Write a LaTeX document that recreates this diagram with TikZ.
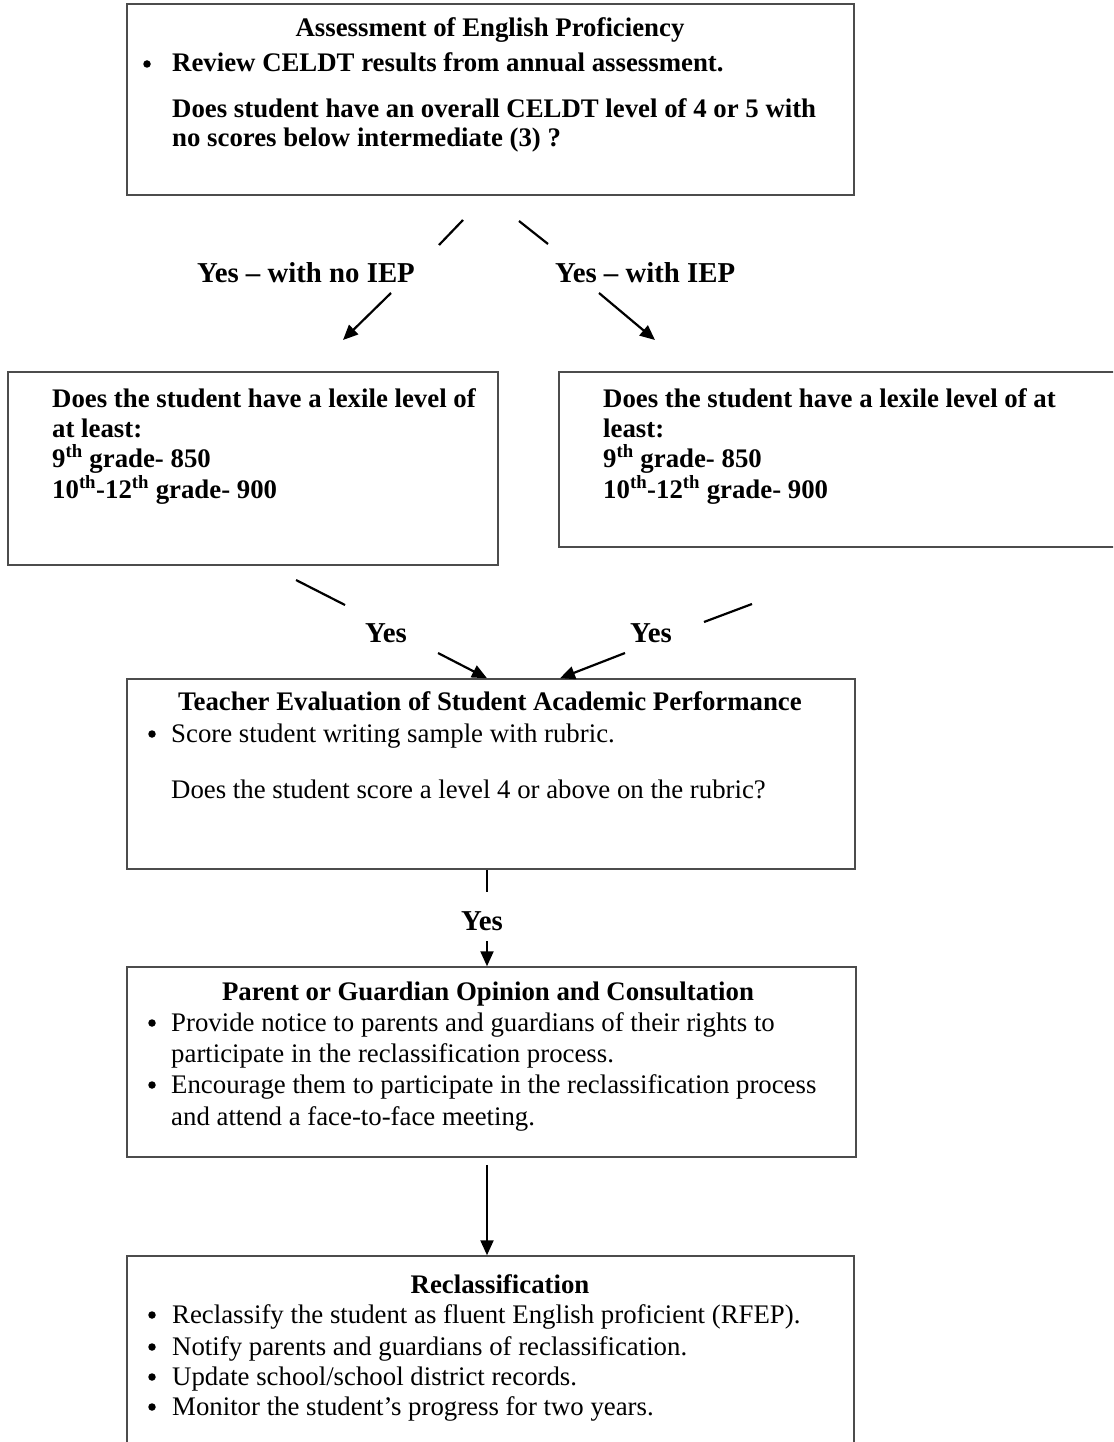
\documentclass[tikz,border=0pt]{standalone}
\usepackage{fontspec}
\setmainfont{Liberation Serif}
\usetikzlibrary{arrows.meta}
\begin{document}
\begin{tikzpicture}[x=1pt,y=-1pt,
  box/.style={draw=black!70, line width=1.5pt, inner sep=0pt},
  txt/.style={inner sep=0pt, anchor=base west, font=\fontsize{26.8}{30}\selectfont},
  btxt/.style={txt, font=\fontsize{26.8}{30}\selectfont\bfseries},
  ttl/.style={inner sep=0pt, anchor=base, font=\fontsize{26.8}{30}\selectfont\bfseries},
  bul/.style={circle, fill=black, inner sep=0pt, minimum size=7.5pt},
  lbl/.style={inner sep=0pt, font=\fontsize{28.8}{32}\selectfont\bfseries},
  conn/.style={line width=2.2pt, black},
  arr/.style={conn, -{Triangle[length=15pt,width=13pt]}}]
\clip (0,0) rectangle (1113,1442);
\fill[white] (0,0) rectangle (1113,1442);

% boxes
\node[box, minimum width=727pt, minimum height=191pt] (assess) at (490.5,99.5) {};
\node[box, minimum width=490pt, minimum height=193pt] (lexL) at (253,468.5) {};
\node[box, minimum width=566pt, minimum height=175pt] (lexR) at (842,459.5) {};
\node[box, minimum width=728pt, minimum height=190pt] (teach) at (491,774) {};
\node[box, minimum width=729pt, minimum height=190pt] (parent) at (491.5,1062) {};
\node[box, minimum width=727pt, minimum height=204pt] (reclass) at (490.5,1358) {};

% top box text
\node[ttl] (t1) at (490,37) {Assessment of English Proficiency};
\node[bul] (t2b) at (147,64) {};
\node[btxt] (t2) at (172,72) {Review CELDT results from annual assessment.};
\node[btxt] (t3) at (172,118) {Does student have an overall CELDT level of 4 or 5 with};
\node[btxt] (t4) at (172,147) {no scores below intermediate (3) ?};

% top connectors
\coordinate (a1s) at (463,220); \coordinate (a1e) at (439,245);
\coordinate (a2s) at (519,221); \coordinate (a2e) at (548,244);
\draw[conn] (a1s) -- (a1e);
\draw[conn] (a2s) -- (a2e);
\node[lbl, anchor=base west] (yesno) at (197,282) {Yes -- with no IEP};
\node[lbl, anchor=base west] (yesiep) at (555,282) {Yes -- with IEP};
\coordinate (b1s) at (391,293); \coordinate (b1e) at (343,340);
\coordinate (b2s) at (599,293); \coordinate (b2e) at (655,340);
\draw[arr] (b1s) -- (b1e);
\draw[arr] (b2s) -- (b2e);

% lexile boxes
\node[btxt] (l1) at (52,407) {Does the student have a lexile level of};
\node[btxt] (l2) at (52,437) {at least:};
\node[btxt] (l3) at (52,467) {9\textsuperscript{th} grade- 850};
\node[btxt] (l4) at (52,498) {10\textsuperscript{th}-12\textsuperscript{th} grade- 900};
\node[btxt] (r1) at (603,407) {Does the student have a lexile level of at};
\node[btxt] (r2) at (603,437) {least:};
\node[btxt] (r3) at (603,467) {9\textsuperscript{th} grade- 850};
\node[btxt] (r4) at (603,498) {10\textsuperscript{th}-12\textsuperscript{th} grade- 900};

% lexile -> teacher
\coordinate (c1s) at (296,580); \coordinate (c1e) at (345,605);
\coordinate (c2s) at (752,604); \coordinate (c2e) at (704,622);
\draw[conn] (c1s) -- (c1e);
\draw[conn] (c2s) -- (c2e);
\node[lbl, anchor=base] (yesL) at (386,642) {Yes};
\node[lbl, anchor=base] (yesR) at (651,642) {Yes};
\coordinate (d1s) at (438,653);
\coordinate (d2s) at (625,653);
\draw[arr] (d1s) -- ([xshift=-4pt]teach.north);
\draw[arr] (d2s) -- ([xshift=69pt]teach.north);

% teacher box
\node[ttl] (e1) at (490,710) {Teacher Evaluation of Student Academic Performance};
\node[bul] (e2b) at (152,734) {};
\node[txt] (e2) at (171,742) {Score student writing sample with rubric.};
\node[txt] (e3) at (171,798) {Does the student score a level 4 or above on the rubric?};

% teacher -> parent
\coordinate (f1e) at (487,892);
\coordinate (f2s) at (487,941);
\draw[conn] ([xshift=-4pt]teach.south) -- (f1e);
\node[lbl, anchor=base] (yesM) at (482,930) {Yes};
\draw[arr] (f2s) -- ([xshift=-4.5pt]parent.north);

% parent box
\node[ttl] (p1) at (488,1000) {Parent or Guardian Opinion and Consultation};
\node[bul] (p2b) at (152,1023) {};
\node[txt] (p2) at (171,1031) {Provide notice to parents and guardians of their rights to};
\node[txt] (p3) at (171,1062) {participate in the reclassification process.};
\node[bul] (p4b) at (152,1085) {};
\node[txt] (p4) at (171,1093) {Encourage them to participate in the reclassification process};
\node[txt] (p5) at (171,1125) {and attend a face-to-face meeting.};

% parent -> reclass
\draw[arr, shorten <=7pt] ([xshift=-4.5pt]parent.south) -- ([xshift=-3.5pt]reclass.north);

% reclass box
\node[ttl] (q1) at (500,1293) {Reclassification};
\node[bul] (q2b) at (152,1315) {};
\node[txt] (q2) at (172,1323) {Reclassify the student as fluent English proficient (RFEP).};
\node[bul] (q3b) at (152,1347) {};
\node[txt] (q3) at (172,1355) {Notify parents and guardians of reclassification.};
\node[bul] (q4b) at (152,1377) {};
\node[txt] (q4) at (172,1385) {Update school/school district records.};
\node[bul] (q5b) at (152,1407) {};
\node[txt] (q5) at (172,1415) {Monitor the student’s progress for two years.};
\end{tikzpicture}
\end{document}
